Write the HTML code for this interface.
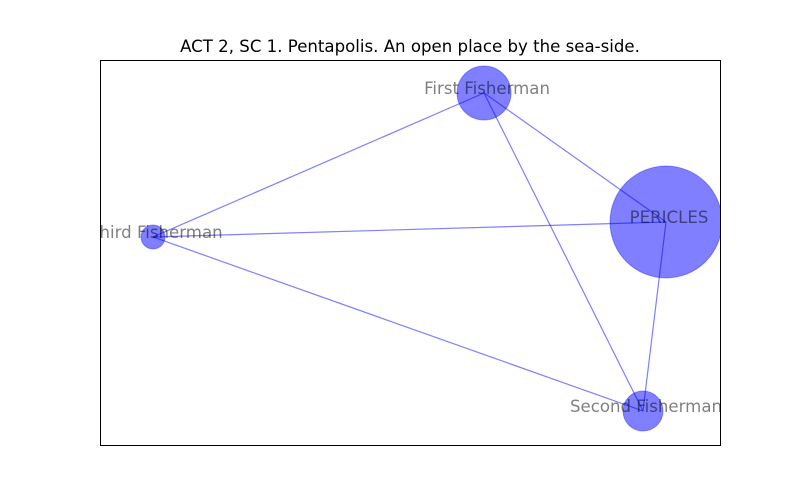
<!DOCTYPE html>
<html><head><meta charset="utf-8"><style>
html,body{margin:0;padding:0;background:#fff;}
svg{display:block;font-family:"DejaVu Sans","Liberation Sans",sans-serif;}
</style></head><body>
<svg id="chart" width="800" height="500">
  <rect x="0" y="0" width="800" height="500" fill="#fff"/>
  <text x="410" y="52" text-anchor="middle" font-size="16.6" fill="#000">ACT 2, SC 1. Pentapolis. An open place by the sea-side.</text>
  <defs><clipPath id="axclip"><rect x="100" y="60" width="620" height="385"/></clipPath></defs>
  <g id="plot" clip-path="url(#axclip)"></g>
  <rect x="100.5" y="60.5" width="620" height="385" fill="none" stroke="#000" stroke-width="1"/>
</svg>
<script>
const nodeNames = ["First Fisherman", "PERICLES", "Third Fisherman", "Second Fisherman"];
const nodeX = [0.6194, 0.9129, 0.0855, 0.8758];
const nodeY = [0.9143, 0.5792, 0.5403, 0.0883];
const nodeSize = [27, 56, 12, 20];
const edgeFrom = [0, 0, 0, 2, 2, 1];
const edgeTo = [2, 1, 3, 1, 3, 3];

const X0 = 100, X1 = 720, Y0 = 445, Y1 = 60;
function sx(v){ return X0 + v * (X1 - X0); }
function sy(v){ return Y0 - v * (Y0 - Y1); }
const NS = "http://www.w3.org/2000/svg";
const g = document.getElementById("plot");

for (let i = 0; i < edgeFrom.length; i++) {
  const a = edgeFrom[i], b = edgeTo[i];
  const l = document.createElementNS(NS, "line");
  l.setAttribute("x1", sx(nodeX[a])); l.setAttribute("y1", sy(nodeY[a]));
  l.setAttribute("x2", sx(nodeX[b])); l.setAttribute("y2", sy(nodeY[b]));
  l.setAttribute("stroke", "rgba(0,0,255,0.5)");
  l.setAttribute("stroke-width", "1.2");
  
  
  g.appendChild(l);
}
for (let i = 0; i < nodeNames.length; i++) {
  const c = document.createElementNS(NS, "circle");
  c.setAttribute("cx", sx(nodeX[i])); c.setAttribute("cy", sy(nodeY[i]));
  c.setAttribute("r", nodeSize[i]);
  c.setAttribute("fill", "rgba(0,0,255,0.5)");
  c.setAttribute("stroke", "rgba(0,0,255,0.35)");
  
  
  g.appendChild(c);
}
for (let i = 0; i < nodeNames.length; i++) {
  const t = document.createElementNS(NS, "text");
  t.setAttribute("x", sx(nodeX[i]) + 3);
  t.setAttribute("y", sy(nodeY[i]) + 1);
  t.setAttribute("text-anchor", "middle");
  t.setAttribute("font-size", "16.6");
  t.setAttribute("fill", "#000");
  t.setAttribute("fill-opacity", "0.5");
  t.textContent = nodeNames[i];
  
  
  g.appendChild(t);
}
</script>
</body></html>
